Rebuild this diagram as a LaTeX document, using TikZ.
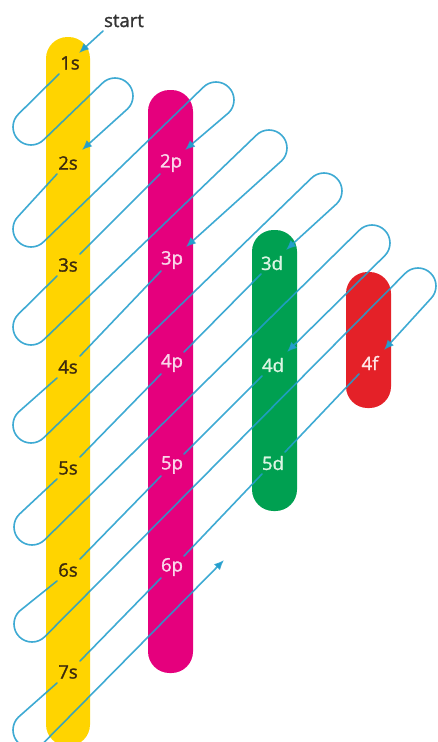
\documentclass[tikz,border=0pt]{standalone}
\usepackage{fontspec}
\setmainfont{Open Sans}
\newfontfamily\labfont[FakeBold=1.4]{Open Sans}
\usetikzlibrary{arrows.meta,calc}
\definecolor{yellowbar}{RGB}{255,212,0}
\definecolor{magentabar}{RGB}{229,0,125}
\definecolor{greenbar}{RGB}{0,160,81}
\definecolor{redbar}{RGB}{228,33,40}
\definecolor{lineblue}{RGB}{35,158,205}
\definecolor{stxt}{RGB}{60,42,14}
\definecolor{ptxt}{RGB}{250,215,235}
\definecolor{dtxt}{RGB}{220,245,228}
\definecolor{ftxt}{RGB}{255,232,232}
\begin{document}
\begin{tikzpicture}[x=1pt,y=-1pt,
  lab/.style={font=\labfont\fontsize{18.5}{20}\selectfont, inner sep=0pt},
  slab/.style={lab, text=stxt},
  plab/.style={lab, text=ptxt},
  dlab/.style={lab, text=dtxt},
  flab/.style={lab, text=ftxt},
  barshape/.style={rounded corners=21.5pt},
  wire/.style={draw=lineblue, draw opacity=0.88, line width=1.6pt, line cap=round},
  tip/.style={-{Latex[length=10pt,width=8.5pt]}},
]
\useasboundingbox (0,0) rectangle (437,742);
\clip (0,0) rectangle (437,742);
% bars
\fill[yellowbar, barshape] (46,37) rectangle (90,746);
\fill[magentabar, barshape] (148,90) rectangle (193,673);
\fill[greenbar, barshape] (252,230) rectangle (297,511);
\fill[redbar, barshape] (346,272) rectangle (391,408);
% labels
\node[inner sep=0pt, font=\labfont\fontsize{18.5}{20}\selectfont, text=black!80] (start) at (124,21) {start};
\node[slab] (s1) at (70,63) {1s};
\node[slab] (s2) at (68,163) {2s};
\node[slab] (s3) at (68,265) {3s};
\node[slab] (s4) at (68,367) {4s};
\node[slab] (s5) at (68,468) {5s};
\node[slab] (s6) at (68,570) {6s};
\node[slab] (s7) at (68,672) {7s};
\node[plab] (p2) at (171,163) {2p};
\node[plab] (p3) at (172,260) {3p};
\node[plab] (p4) at (172,363) {4p};
\node[plab] (p5) at (172,465) {5p};
\node[plab] (p6) at (172,567) {6p};
\node[dlab] (d3) at (272,263) {3d};
\node[dlab] (d4) at (273,365) {4d};
\node[dlab] (d5) at (273,463) {5d};
\node[flab] (f4) at (370,363) {4f};
% hairpin centres
\coordinate (B1) at (31,127);
\coordinate (B2) at (31,229);
\coordinate (B3) at (31,327);
\coordinate (B4) at (31,425);
\coordinate (B5) at (32,527);
\coordinate (B6) at (32,624);
\coordinate (B7) at (31,730);
\coordinate (L1) at (115,96);
\coordinate (L2) at (216,100);
\coordinate (L3) at (269,148);
\coordinate (L4) at (324,191);
\coordinate (L5) at (372,243);
\coordinate (L6) at (418,286);
\coordinate (st) at (103,31);
\coordinate (fin) at (224,560);
% start
\draw[wire,tip] (st) -- ($(s1)+(9,-10)$);
% diagonal 1
\draw[wire,tip] ($(s1)+(-11,11)$) -- ($(B1)+(225:18)$) arc[start angle=225,end angle=45,radius=18]
  -- ($(L1)+(225:18)$) arc[start angle=225,end angle=405,radius=18] -- ($(s2)+(14,-13)$);
% diagonal 2
\draw[wire,tip] ($(s2)+(-11,11)$) -- ($(B2)+(225:18)$) arc[start angle=225,end angle=45,radius=18]
  -- ($(L2)+(225:18)$) arc[start angle=225,end angle=405,radius=18] -- ($(p2)+(14,-13)$);
% diagonal 3
\draw[wire] ($(p2)+(-11,11)$) -- ($(s3)+(12,-11)$);
\draw[wire,tip] ($(s3)+(-11,11)$) -- ($(B3)+(225:18)$) arc[start angle=225,end angle=45,radius=18]
  -- ($(L3)+(225:18)$) arc[start angle=225,end angle=405,radius=18] -- ($(p3)+(14,-13)$);
% diagonal 4
\draw[wire] ($(p3)+(-11,11)$) -- ($(s4)+(12,-11)$);
\draw[wire,tip] ($(s4)+(-11,11)$) -- ($(B4)+(225:18)$) arc[start angle=225,end angle=45,radius=18]
  -- ($(L4)+(225:18)$) arc[start angle=225,end angle=405,radius=18] -- ($(d3)+(14,-13)$);
% diagonal 5
\draw[wire] ($(d3)+(-11,11)$) -- ($(p4)+(12,-11)$);
\draw[wire] ($(p4)+(-11,11)$) -- ($(s5)+(12,-11)$);
\draw[wire,tip] ($(s5)+(-11,11)$) -- ($(B5)+(225:18)$) arc[start angle=225,end angle=45,radius=18]
  -- ($(L5)+(225:18)$) arc[start angle=225,end angle=405,radius=18] -- ($(d4)+(14,-13)$);
% diagonal 6
\draw[wire] ($(d4)+(-11,11)$) -- ($(p5)+(12,-11)$);
\draw[wire] ($(p5)+(-11,11)$) -- ($(s6)+(12,-11)$);
\draw[wire,tip] ($(s6)+(-11,11)$) -- ($(B6)+(225:18)$) arc[start angle=225,end angle=45,radius=18]
  -- ($(L6)+(225:18)$) arc[start angle=225,end angle=405,radius=18] -- ($(f4)+(14,-13)$);
% diagonal 7
\draw[wire] ($(f4)+(-11,11)$) -- ($(d5)+(12,-11)$);
\draw[wire] ($(d5)+(-11,11)$) -- ($(p6)+(12,-11)$);
\draw[wire] ($(p6)+(-11,11)$) -- ($(s7)+(12,-11)$);
\draw[wire,tip] ($(s7)+(-11,11)$) -- ($(B7)+(225:18)$) arc[start angle=225,end angle=45,radius=18]
  -- (fin);
\end{tikzpicture}
\end{document}
